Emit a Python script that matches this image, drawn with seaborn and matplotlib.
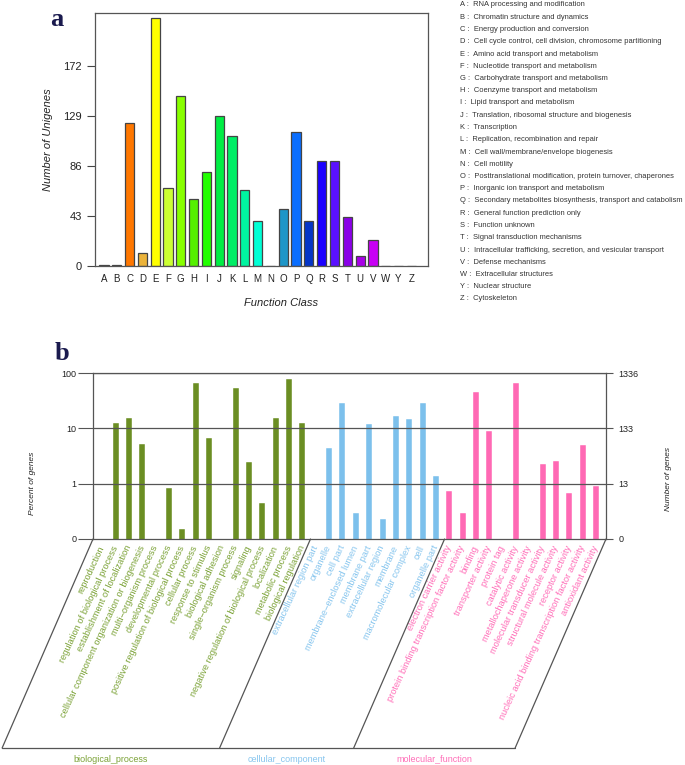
import numpy as np
import matplotlib
matplotlib.use("Agg")
import matplotlib.pyplot as plt
from matplotlib.lines import Line2D
from matplotlib.ticker import NullLocator
import seaborn as sns

# ---- panel a: COG function classes ----
cog_letters = list("ABCDEFGHIJKLMNOPQRSTUVWYZ")
cog_counts = [1, 1, 123, 11, 213, 67, 146, 58, 81, 129, 112, 65, 39, 0,
              49, 115, 39, 90, 90, 42, 9, 22, 0, 0, 0]
cog_desc = [
    "RNA processing and modification",
    "Chromatin structure and dynamics",
    "Energy production and conversion",
    "Cell cycle control, cell division, chromosome partitioning",
    "Amino acid transport and metabolism",
    "Nucleotide transport and metabolism",
    "Carbohydrate transport and metabolism",
    "Coenzyme transport and metabolism",
    "Lipid transport and metabolism",
    "Translation, ribosomal structure and biogenesis",
    "Transcription",
    "Replication, recombination and repair",
    "Cell wall/membrane/envelope biogenesis",
    "Cell motility",
    "Posttranslational modification, protein turnover, chaperones",
    "Inorganic ion transport and metabolism",
    "Secondary metabolites biosynthesis, transport and catabolism",
    "General function prediction only",
    "Function unknown",
    "Signal transduction mechanisms",
    "Intracellular trafficking, secretion, and vesicular transport",
    "Defense mechanisms",
    "Extracellular structures",
    "Nuclear structure",
    "Cytoskeleton",
]
cog_colors = ["#4B1A7A", "#4B1A7A", "#FF7700", "#EBB33A", "#FFFF00", "#CCFF33",
              "#88FF00", "#55F000", "#22FF00", "#00EE44", "#00EE66", "#00F5A0",
              "#00FFD5", "#00D0E0", "#1E96C8", "#0A6EFF", "#0535C8", "#1A00FF",
              "#5A10FF", "#8A00E8", "#A800E8", "#C800F5", "#CC00FF", "#CC00FF",
              "#CC00FF"]

# ---- panel b: GO terms (percent of genes) ----
bp_terms = ["reproduction", "regulation of biological process",
            "establishment of localization",
            "cellular component organization or biogenesis",
            "multi\u2212organism process", "developmental process",
            "positive regulation of biological process", "cellular process",
            "response to stimulus", "biological adhesion",
            "single\u2212organism process", "signaling",
            "negative regulation of biological process", "localization",
            "metabolic process", "biological regulation"]
bp_pct = [0, 12.3, 15.4, 5.3, 0, 0.83, 0.15, 65, 6.8, 0, 53, 2.5, 0.45,
          15.4, 77, 12.4]
cc_terms = ["extracellular region part", "organelle", "cell part",
            "membrane\u2212enclosed lumen", "membrane part",
            "extracellular region", "membrane", "macromolecular complex",
            "cell", "organelle part"]
cc_pct = [0, 4.5, 29, 0.30, 12.2, 0.23, 17, 14.6, 29, 1.36]
mf_terms = ["electron carrier activity",
            "protein binding transcription factor activity", "binding",
            "transporter activity", "protein tag", "catalytic activity",
            "metallochaperone activity", "molecular transducer activity",
            "structural molecule activity", "receptor activity",
            "nucleic acid binding transcription factor activity",
            "antioxidant activity"]
mf_pct = [0.75, 0.30, 46, 8.9, 0, 66, 0, 2.25, 2.6, 0.67, 4.9, 0.91]
groups = ["biological_process", "cellular_component", "molecular_function"]
group_colors = {"biological_process": "#6B8E23",
                "cellular_component": "#7CC0EC",
                "molecular_function": "#FF69B4"}
text_colors = {"biological_process": "#7BA236",
               "cellular_component": "#86C5EE",
               "molecular_function": "#FF6EB8"}

go_terms = bp_terms + cc_terms + mf_terms
go_pct = bp_pct + cc_pct + mf_pct
go_group = ([groups[0]] * len(bp_terms) + [groups[1]] * len(cc_terms)
            + [groups[2]] * len(mf_terms))

sns.set_theme(style="white")
plt.rcParams["font.family"] = ["Liberation Sans", "DejaVu Sans"]

W, H = 685, 765
fig = plt.figure(figsize=(W / 100, H / 100), dpi=100)


def fx(px):
    return px / W


def fy(py):
    return 1 - py / H


# =========================
# PANEL A
# =========================
ax1 = fig.add_axes([fx(95), fy(266), fx(428 - 95), (266 - 13) / H])
sns.barplot(x=cog_letters, y=cog_counts, hue=cog_letters, palette=cog_colors,
            saturation=1, width=0.72, edgecolor="#444444", linewidth=0.9,
            legend=False, ax=ax1)
ax1.set_xlim(-0.7, 25.3)
ax1.set_ylim(0, 217.6)
ax1.set_yticks([0, 43, 86, 129, 172])
ax1.tick_params(axis="y", left=True, direction="out", length=5.5, width=0.8,
                color="#444444", labelsize=8, pad=4, labelcolor="#222222")
ax1.tick_params(axis="x", length=0, labelsize=7, pad=6, labelcolor="#222222")
for s in ax1.spines.values():
    s.set_color("#555555")
    s.set_linewidth(0.9)
ax1.set_xlabel("")
ax1.set_ylabel("")
fig.text(fx(48), fy(140), "Number of Unigenes", rotation=90, style="italic",
         fontsize=8, ha="center", va="center", color="#222222")
fig.text(fx(281), fy(303), "Function Class", style="italic", fontsize=8,
         ha="center", va="center", color="#222222")
fig.text(fx(57), fy(19), "a", family="Liberation Serif", fontweight="bold",
         fontsize=19, color="#1A1A4E", ha="center", va="center")

for i, (l, d) in enumerate(zip(cog_letters, cog_desc)):
    fig.text(fx(460), fy(5 + i * 12.25), f"{l} :  {d}", fontsize=5.4,
             va="center", ha="left", color="#333333")

# =========================
# PANEL B
# =========================
ax2 = fig.add_axes([fx(93), fy(539), fx(606 - 93), (539 - 373) / H])
sns.barplot(x=go_terms, y=go_pct, hue=go_group, palette=group_colors,
            saturation=1, dodge=False, width=0.45, edgecolor="white",
            linewidth=0.3, legend=False, ax=ax2)
ax2.set_yscale("log")
ax2.set_ylim(0.1, 100)
ax2.set_xlim(-0.7, 37.75)
ax2.yaxis.set_minor_locator(NullLocator())
ax2.set_yticks([0.1, 1, 10, 100])
ax2.set_yticklabels(["0", "1", "10", "100"])
ax2.tick_params(axis="y", left=True, direction="out", length=11, width=0.8,
                color="#555555", labelsize=6.5, pad=1, labelcolor="#222222")
ax2.set_xticks(range(len(go_terms)))
ax2.set_xticklabels(go_terms, rotation=65, ha="right", va="center",
                    rotation_mode="anchor", fontsize=6.7)
ax2.tick_params(axis="x", length=0, pad=5)
for lab, g in zip(ax2.get_xticklabels(), go_group):
    lab.set_color(text_colors[g])
for yv in [1, 10, 100]:
    ax2.axhline(yv, color="#555555", lw=0.9, zorder=5)
for s in ax2.spines.values():
    s.set_color("#555555")
    s.set_linewidth(0.9)
ax2.set_xlabel("")
ax2.set_ylabel("")

ax3 = ax2.twinx()
ax3.set_yscale("log")
ax3.set_ylim(0.1, 100)
ax3.yaxis.set_minor_locator(NullLocator())
ax3.set_yticks([0.1, 1, 10, 100])
ax3.set_yticklabels(["0", "13", "133", "1336"])
ax3.tick_params(axis="y", right=True, direction="out", length=5, width=0.8,
                color="#555555", labelsize=6.5, pad=4, labelcolor="#222222")
for s in ax3.spines.values():
    s.set_visible(False)

fig.text(fx(33), fy(483), "Percent of genes", rotation=90, style="italic",
         fontsize=6, ha="center", va="center", color="#222222")
fig.text(fx(668), fy(479), "Number of genes", rotation=90, style="italic",
         fontsize=6, ha="center", va="center", color="#222222")
fig.text(fx(62), fy(353), "b", family="Liberation Serif", fontweight="bold",
         fontsize=19, color="#1A1A4E", ha="center", va="center")

# group bracket (slanted parallelogram under the labels)
top_py, bot_py = 539, 748
shift = (bot_py - top_py) / np.tan(np.radians(66.5))
bounds = [-0.7, 15.6, 25.65, 37.75]
bx = []
for b in bounds:
    px = ax2.transData.transform((b, 1))[0]
    bx.append(px)
    fig.add_artist(Line2D([fx(px), fx(px - shift)], [fy(top_py), fy(bot_py)],
                          transform=fig.transFigure, color="#555555", lw=0.9))
fig.add_artist(Line2D([fx(bx[0] - shift), fx(bx[-1] - shift)],
                      [fy(bot_py), fy(bot_py)], transform=fig.transFigure,
                      color="#555555", lw=0.9))
for k, g in enumerate(groups):
    cx = (bx[k] + bx[k + 1]) / 2 - shift
    fig.text(fx(cx), fy(759), g, fontsize=6.5, color=text_colors[g],
             ha="center", va="center")

fig.savefig("out.png", dpi=100)
